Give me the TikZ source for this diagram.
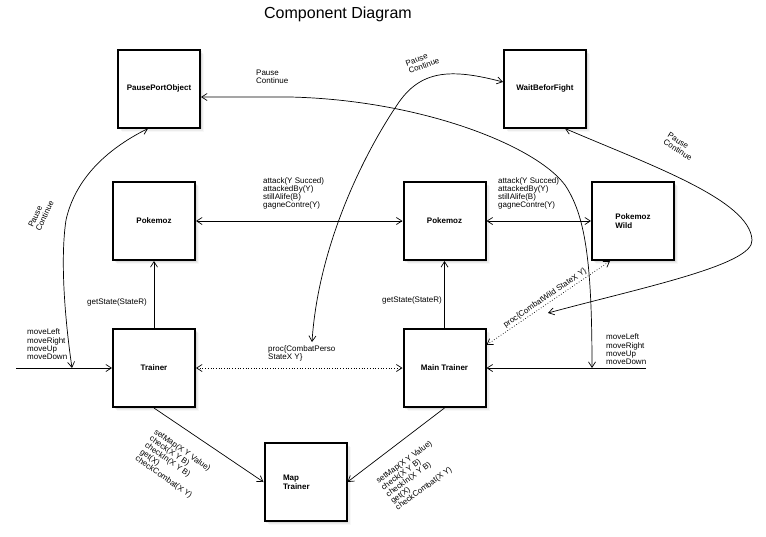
\documentclass[tikz,border=0pt]{standalone}
\usepackage{fontspec}
\setmainfont{Liberation Sans}
\usetikzlibrary{arrows.meta,shadows}
\begin{document}
\begin{tikzpicture}[x=1pt,y=-1pt,
  comp/.style={draw=black, line width=2pt, fill=white, minimum width=82pt, minimum height=78pt, inner sep=0pt,
    font=\bfseries\fontsize{8}{8.6}\selectfont, align=left,
    drop shadow={shadow xshift=4pt, shadow yshift=-4pt, opacity=0.06},
    drop shadow={shadow xshift=3pt, shadow yshift=-3pt, opacity=0.1},
    drop shadow={shadow xshift=1.8pt, shadow yshift=-1.8pt, opacity=0.15}},
  conn/.style={line width=0.7pt, >={Straight Barb[length=5.5pt,width=7pt]}},
  lbl/.style={font=\fontsize{8}{8.2}\selectfont, align=left, inner sep=0pt},
]
\useasboundingbox (0,0) rectangle (766,536);

\node[font=\fontsize{16}{19}\selectfont] (title) at (338,14) {Component Diagram};

% components
\node[comp] (ppo) at (159,88.5) {PausePortObject};
\node[comp] (wbf) at (545,88.5) {WaitBeforFight};
\node[comp] (pkl) at (154,221) {Pokemoz};
\node[comp] (pkm) at (444.5,221) {Pokemoz};
\node[comp] (pkw) at (633,221) {Pokemoz\\Wild};
\node[comp] (tr) at (154,368) {Trainer};
\node[comp] (mt) at (444.5,368) {Main Trainer};
\node[comp, text width=45pt] (map) at (305.5,482) {Map\\Trainer};

% free ends
\coordinate (inl) at (16,368);
\coordinate (inr) at (646,368);
\coordinate (pl) at (72,368);
\coordinate (pr) at (592,368);
\coordinate (pc) at (312,342);
\coordinate (pw) at (548,313);

% straight connectors
\draw[conn,<->] (pkl.east) -- (pkm.west);
\draw[conn,<->] (pkm.east) -- (pkw.west);
\draw[conn,->] (tr.north) -- (pkl.south);
\draw[conn,->] (mt.north) -- (pkm.south);
\draw[conn,dotted,<->] (tr.east) -- (mt.west);
\draw[conn,->] (inl) -- (tr.west);
\draw[conn,->] (inr) -- (mt.east);
\draw[conn,->] (tr.south) -- (map.west);
\draw[conn,->] (mt.south) -- (map.east);
\draw[conn,dotted,<->] ([yshift=-17pt]mt.north east) -- node[lbl,sloped,above=1.5pt]{proc\{CombatWild StateX Y\}} ([xshift=19pt]pkw.south west);

% curved connectors
\draw[conn,<->] ([xshift=-11pt]ppo.south) .. controls (105,150) and (75,180) .. (66,220) .. controls (60,260) and (65,320) .. (pl);
\draw[conn,<->] ([yshift=-8.5pt]ppo.east) -- (290,97) .. controls (420,100) and (535,145) .. (565,185) .. controls (585,215) and (592,260) .. (pr);
\draw[conn,<->] ([yshift=6.5pt]wbf.west) .. controls (450,68) and (420,70) .. (397,105) .. controls (360,160) and (318,250) .. (pc);
\draw[conn,<->] ([xshift=20pt]wbf.south) .. controls (650,165) and (750,200) .. (752,240) .. controls (754,265) and (640,288) .. (pw);

% labels
\node[lbl,anchor=north west] (l1) at (263,177) {attack(Y Succed)\\attackedBy(Y)\\stillAlife(B)\\gagneContre(Y)};
\node[lbl,anchor=north west] (l2) at (498,177) {attack(Y Succed)\\attackedBy(Y)\\stillAlife(B)\\gagneContre(Y)};
\node[lbl,anchor=west] (l3) at (87,302.5) {getState(StateR)};
\node[lbl,anchor=west] (l4) at (382,300) {getState(StateR)};
\node[lbl,anchor=north west] (l5) at (27,329) {moveLeft\\moveRight\\moveUp\\moveDown};
\node[lbl,anchor=north west] (l6) at (606,334) {moveLeft\\moveRight\\moveUp\\moveDown};
\node[lbl,anchor=north west] (l7) at (268,345) {proc\{CombatPerso\\StateX Y\}};
\node[lbl,anchor=north west] (l8) at (256,70) {Pause\\Continue};
\node[lbl,rotate=20] (l9) at (422.5,62) {Pause\\Continue};
\node[lbl,rotate=-32] (l10) at (680,146.5) {Pause\\Continue};
\node[lbl,rotate=65] (l11) at (41,214) {Pause\\Continue};
\node[lbl,rotate=-35,anchor=north west] (l12) at (157,428) {setMap(X Y Value)\\check(X Y B)\\checkIn(X Y B)\\get(X)\\checkCombat(X Y)};
\node[lbl,rotate=36,anchor=north west] (l13) at (375,479) {setMap(X Y Value)\\check(X Y B)\\checkIn(X Y B)\\get(X)\\checkCombat(X Y)};
\end{tikzpicture}
\end{document}
